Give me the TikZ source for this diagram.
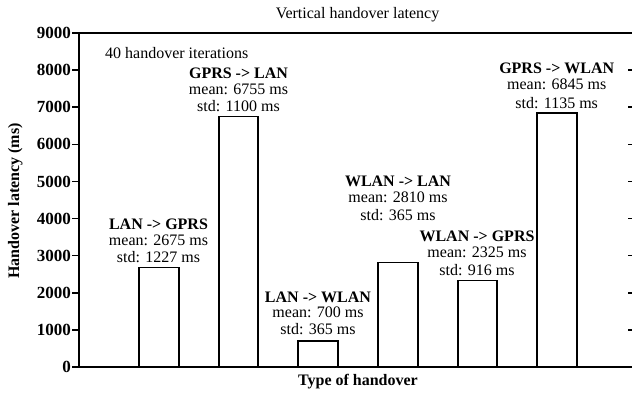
\documentclass[tikz,border=0pt]{standalone}
\usepackage{fontspec}
\setmainfont{Liberation Serif}
\begin{document}
\begin{tikzpicture}[x=1pt,y=-1pt,
  lbl/.style={font=\fontsize{16}{18}\selectfont, inner sep=0pt, text height=11pt, text depth=2.5pt},
  blbl/.style={font=\fontsize{16}{18}\selectfont\bfseries, inner sep=0pt, text height=11pt, text depth=2.5pt},
  tick/.style={font=\fontsize{17}{19}\selectfont\bfseries, inner sep=0pt, anchor=east},
  bar/.style={draw=black, line width=1.2pt},
  axis/.style={draw=black, line width=2pt},
  tk/.style={draw=black, line width=1.5pt}]
\useasboundingbox (0,0) rectangle (632,392);
% frame
\draw[axis] (79,33) -- (640,33);
\draw[axis] (79,33) -- (79,367) -- (640,367);
% y ticks and labels
\foreach \v [count=\i from 0] in {0,1000,...,9000} {
  \pgfmathsetmacro{\yy}{367-\v*0.03711}
  \draw[tk] (72,\yy) -- (79,\yy);
  \draw[tk] (628,\yy) -- (634,\yy);
  \node[tick] (t\i) at (71,\yy) {\v};
}
% bars
\draw[bar] (139,367) rectangle (179,267.7);
\draw[bar] (219,367) rectangle (258,116.3);
\draw[bar] (298,367) rectangle (338,341);
\draw[bar] (378,367) rectangle (418,262.7);
\draw[bar] (458,367) rectangle (497,280.7);
\draw[bar] (537,367) rectangle (577,113);
% title and axis labels
\node[lbl] (title) at (357.5,14) {Vertical handover latency};
\node[blbl] (xlab) at (358,381) {Type of handover};
\node[blbl, rotate=90] (ylab) at (15,201) {Handover latency (ms)};
\node[lbl, anchor=west] (iter) at (105,54) {40 handover iterations};
% bar labels
\node[blbl] (a1) at (158.5,225) {LAN -> GPRS};
\node[lbl] (a2) at (158.5,241) {mean: 2675 ms};
\node[lbl] (a3) at (158.5,258) {std: 1227 ms};
\node[blbl] (b1) at (238.5,74.5) {GPRS -> LAN};
\node[lbl] (b2) at (238.5,90) {mean: 6755 ms};
\node[lbl] (b3) at (238.5,107) {std: 1100 ms};
\node[blbl] (c1) at (318,298) {LAN -> WLAN};
\node[lbl] (c2) at (318,313.5) {mean: 700 ms};
\node[lbl] (c3) at (318,330) {std: 365 ms};
\node[blbl] (d1) at (398,182.5) {WLAN -> LAN};
\node[lbl] (d2) at (398,198) {mean: 2810 ms};
\node[lbl] (d3) at (398,216) {std: 365 ms};
\node[blbl] (e1) at (477,237.5) {WLAN -> GPRS};
\node[lbl] (e2) at (477,253) {mean: 2325 ms};
\node[lbl] (e3) at (477,271) {std: 916 ms};
\node[blbl] (f1) at (556.7,69.5) {GPRS -> WLAN};
\node[lbl] (f2) at (556.7,85) {mean: 6845 ms};
\node[lbl] (f3) at (556.7,104) {std: 1135 ms};
\end{tikzpicture}
\end{document}
